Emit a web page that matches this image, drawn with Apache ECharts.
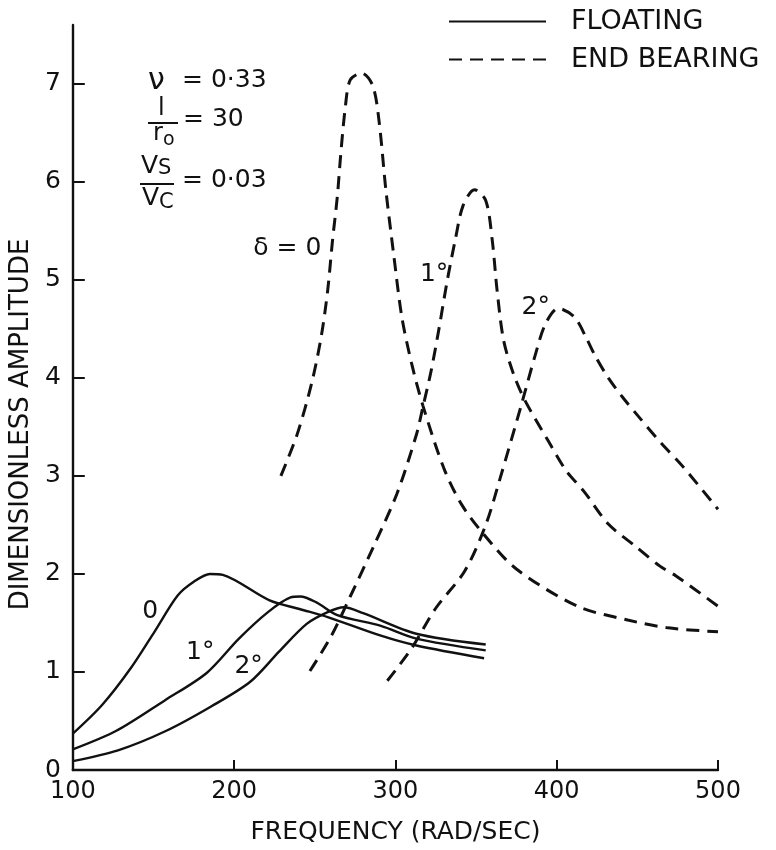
<!DOCTYPE html>
<html>
<head>
<meta charset="utf-8">
<title>Dimensionless amplitude vs frequency</title>
<script src="https://cdn.jsdelivr.net/npm/echarts@6/dist/echarts.min.js"></script>
<style>
    html, body { margin: 0; padding: 0; background: #fff; }
    #chart { width: 776px; height: 850px; }
</style>
</head>
<body>
<div id="chart"></div>
<script>
// 数据: [频率, 幅值]
var floating0 = [[100, 0.37], [118, 0.66], [136, 1.04], [151, 1.42], [165, 1.78], [175, 1.92], [185, 2.00], [193, 1.99], [222, 1.73], [241, 1.64], [258, 1.56], [291, 1.37], [313, 1.27], [355, 1.14]];
var floating1 = [[100, 0.21], [127, 0.40], [157, 0.71], [183, 0.99], [203, 1.34], [221, 1.61], [235, 1.76], [241, 1.77], [251, 1.71], [264, 1.58], [291, 1.47], [313, 1.34], [356, 1.22]];
var floating2 = [[100, 0.09], [128, 0.20], [158, 0.40], [186, 0.65], [210, 0.90], [228, 1.21], [245, 1.49], [258, 1.61], [268, 1.66], [280, 1.60], [313, 1.39], [356, 1.28]];
var bearing0 = [[229, 3.00], [239, 3.42], [248, 3.94], [254, 4.42], [258, 4.89], [261, 5.40], [264, 5.85], [266, 6.26], [269, 6.77], [272, 7.04], [279, 7.11], [286, 6.98], [290, 6.60], [294, 5.93], [299, 5.25], [304, 4.62], [310, 4.15], [317, 3.72], [330, 3.08], [341, 2.71], [355, 2.40], [375, 2.05], [413, 1.67], [444, 1.53], [469, 1.45], [500, 1.41]];
var bearing1 = [[247, 1.01], [260, 1.36], [272, 1.77], [287, 2.30], [301, 2.82], [313, 3.42], [317, 3.70], [322, 4.06], [327, 4.50], [332, 4.98], [337, 5.40], [342, 5.76], [349, 5.92], [356, 5.81], [360, 5.41], [363, 4.90], [367, 4.39], [373, 4.05], [380, 3.78], [395, 3.35], [406, 3.05], [417, 2.84], [432, 2.51], [449, 2.28], [464, 2.08], [474, 1.98], [500, 1.67]];
var bearing2 = [[295, 0.91], [310, 1.24], [325, 1.65], [343, 2.03], [356, 2.50], [365, 2.98], [378, 3.72], [387, 4.25], [393, 4.55], [401, 4.71], [411, 4.62], [418, 4.42], [424, 4.22], [432, 4.00], [441, 3.80], [450, 3.62], [465, 3.33], [478, 3.10], [500, 2.66]];

// 曲线标注 [频率, 幅值, 文字]
var curveLabels = [[148, 1.62, '0'], [179, 1.20, '1°'], [209, 1.06, '2°'], [233, 5.32, 'δ = 0'], [324, 5.05, '1°'], [387, 4.72, '2°']];

var xTicks = [100, 200, 300, 400, 500];
var yTicks = [0, 1, 2, 3, 4, 5, 6, 7];

var ink = '#111';
var font = 'DejaVu Sans';

var myChart = echarts.init(document.getElementById('chart'));

function solid(name, data) {
    return {
        name: name,
        type: 'line',
        data: data,
        symbol: 'none',
        smooth: 0.3,
        lineStyle: { color: ink, width: 2.4, type: 'solid' },
        itemStyle: { color: ink },
        z: 3
    };
}

function dashed(name, data) {
    return {
        name: name,
        type: 'line',
        data: data,
        symbol: 'none',
        smooth: 0.3,
        lineStyle: { color: ink, width: 3, type: [13, 8] },
        itemStyle: { color: ink },
        z: 3
    };
}

var option = {
    backgroundColor: '#fff',
    animation: false,
    textStyle: { fontFamily: font, color: ink },
    grid: { left: 68, right: 58, top: 25, bottom: 79 },
    legend: {
        orient: 'vertical',
        left: 443,
        top: 3,
        itemWidth: 97,
        itemHeight: 14,
        itemGap: 11,
        data: ['FLOATING', 'END BEARING'],
        itemStyle: { opacity: 0 },
        textStyle: { fontSize: 27, fontFamily: font, color: ink, padding: [0, 0, 0, 20] }
    },
    xAxis: {
        type: 'value',
        min: 100,
        max: 500,
        interval: 100,
        name: 'FREQUENCY (RAD/SEC)',
        nameLocation: 'middle',
        nameGap: 50,
        nameTextStyle: { fontSize: 25, fontFamily: font, color: ink },
        axisLine: { show: true, lineStyle: { color: ink, width: 2.4 } },
        axisTick: { show: true, inside: true, length: 10, lineStyle: { color: ink, width: 2 } },
        axisLabel: { fontSize: 24, color: ink, margin: 10, customValues: xTicks },
        splitLine: { show: false }
    },
    yAxis: {
        type: 'value',
        min: 0,
        max: 7.6,
        interval: 1,
        name: 'DIMENSIONLESS AMPLITUDE',
        nameLocation: 'middle',
        nameGap: 38,
        nameTextStyle: { fontSize: 26, fontFamily: font, color: ink, padding: [0, 54, 0, 0] },
        axisLine: { show: true, lineStyle: { color: ink, width: 2.4 } },
        axisTick: { show: true, inside: true, length: 12, lineStyle: { color: ink, width: 2 }, customValues: yTicks },
        axisLabel: {
            fontSize: 25, color: ink, margin: 12, customValues: yTicks,
            formatter: function (v) { return v % 1 === 0 ? v : ''; }
        },
        splitLine: { show: false }
    },
    graphic: [
        { type: 'text', left: 148, top: 66, style: { text: 'ν', fontSize: 30, fontFamily: font, fill: ink } },
        { type: 'text', left: 182, top: 68, style: { text: '= 0·33', fontSize: 25, fontFamily: font, fill: ink } },
        { type: 'text', left: 158, top: 97, style: { text: 'l', fontSize: 24, fontFamily: font, fill: ink } },
        { type: 'line', shape: { x1: 148, y1: 123, x2: 178, y2: 123 }, style: { stroke: ink, lineWidth: 2 } },
        { type: 'text', left: 153, top: 122, style: { text: 'r', fontSize: 24, fontFamily: font, fill: ink } },
        { type: 'text', left: 163, top: 131, style: { text: 'o', fontSize: 19, fontFamily: font, fill: ink } },
        { type: 'text', left: 183, top: 107, style: { text: '= 30', fontSize: 25, fontFamily: font, fill: ink } },
        { type: 'text', left: 141, top: 154, style: { text: 'V', fontSize: 25, fontFamily: font, fill: ink } },
        { type: 'text', left: 158, top: 158, style: { text: 'S', fontSize: 21, fontFamily: font, fill: ink } },
        { type: 'line', shape: { x1: 140, y1: 184, x2: 174, y2: 184 }, style: { stroke: ink, lineWidth: 2 } },
        { type: 'text', left: 142, top: 186, style: { text: 'V', fontSize: 25, fontFamily: font, fill: ink } },
        { type: 'text', left: 159, top: 192, style: { text: 'C', fontSize: 21, fontFamily: font, fill: ink } },
        { type: 'text', left: 182, top: 168, style: { text: '= 0·03', fontSize: 25, fontFamily: font, fill: ink } }
    ],
    series: [
        solid('FLOATING', floating0),
        solid('FLOATING', floating1),
        solid('FLOATING', floating2),
        dashed('END BEARING', bearing0),
        dashed('END BEARING', bearing1),
        dashed('END BEARING', bearing2),
        {
            name: 'labels',
            type: 'scatter',
            data: curveLabels,
            symbolSize: 0,
            silent: true,
            itemStyle: { color: ink, opacity: 1 },
            label: {
                show: true,
                position: 'inside',
                fontSize: 25,
                fontFamily: font,
                color: ink,
                opacity: 1,
                formatter: function (p) { return p.data[2]; }
            },
            z: 4
        }
    ]
};
myChart.setOption(option);
</script>
</body>
</html>
